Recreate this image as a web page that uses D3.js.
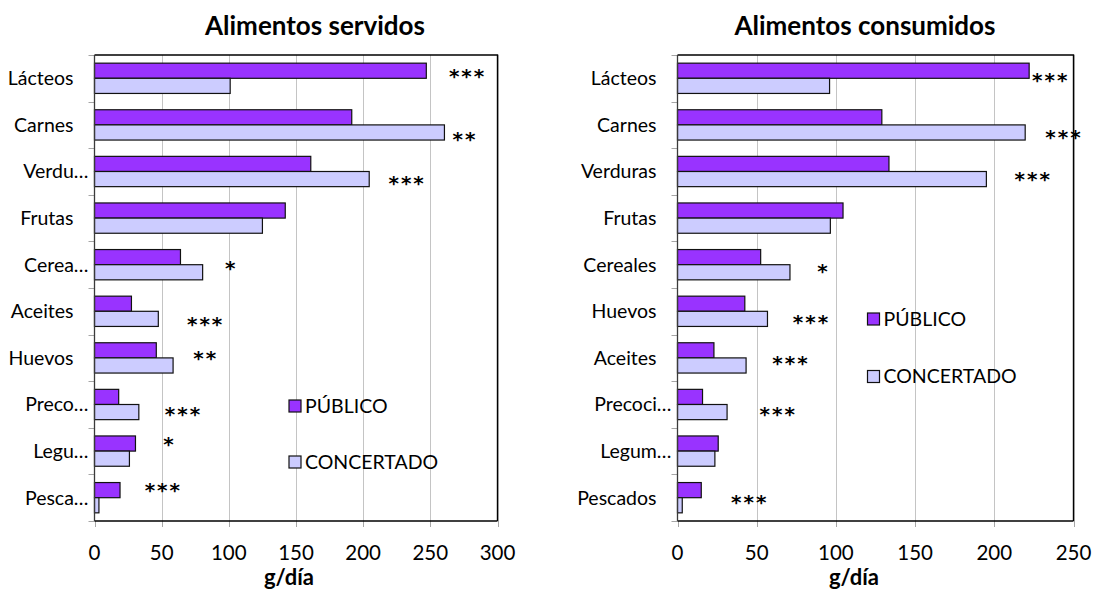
<!DOCTYPE html>
<html><head><meta charset="utf-8">
<script src="https://cdn.jsdelivr.net/npm/d3@7"></script>
<style>
html,body{margin:0;padding:0;background:#fff;}
svg{display:block;font-family:Lato,"Open Sans",sans-serif;}
</style></head>
<body>
<svg id="chart" width="1094" height="590"></svg>
<script>
// ---------- DATA ----------
const seriesNames = ["PÚBLICO", "CONCERTADO"];

const servidosCategories = ["Lácteos","Carnes","Verdu…","Frutas","Cerea…","Aceites","Huevos","Preco…","Legu…","Pesca…"];
const servidosPublico    = [247, 191.5, 161, 142, 64, 27.5, 46, 18, 30.5, 19];
const servidosConcertado = [101, 260.5, 204.5, 125, 80.5, 47.5, 58.5, 33, 26, 3.3];
const servidosSig        = ["***","**","***","","*","***","**","***","*","***"];
const servidosSigX       = [277, 275, 232, 0, 101, 82, 82, 65.5, 55, 50.5];
const servidosSigRow     = [0.41, 0.77, 0.70, 0, 0.52, 0.72, 0.46, 0.67, 0.31, 0.30];
const servidosTicks      = [0, 50, 100, 150, 200, 250, 300];

const consumidosCategories = ["Lácteos","Carnes","Verduras","Frutas","Cereales","Huevos","Aceites","Precoci…","Legum…","Pescados"];
const consumidosPublico    = [222, 129, 133.5, 104.5, 52.5, 42.5, 23, 15.8, 25.7, 15];
const consumidosConcertado = [96, 219.5, 195, 96.5, 71, 56.8, 43.3, 31.3, 23.6, 3];
const consumidosSig        = ["***","***","***","","*","***","***","***","","***"];
const consumidosSigX       = [235, 243.4, 224, 0, 91.5, 84, 71, 63, 0, 45];
const consumidosSigRow     = [0.50, 0.72, 0.62, 0, 0.60, 0.69, 0.56, 0.67, 0, 0.55];
const consumidosTicks      = [0, 50, 100, 150, 200, 250];

const xLabel = "g/día";
const colors = ["#9933FF", "#CCCCFF"];

// ---------- DRAW ----------
const svg = d3.select("#chart");

function panel(cfg) {
  const g = svg.append("g");
  const x = d3.scaleLinear().domain([0, d3.max(cfg.ticks)]).range([cfg.x0, cfg.x1]);
  const y = d3.scaleBand().domain(d3.range(cfg.categories.length)).range([cfg.y0, cfg.y1])
    .paddingInner(0.35).paddingOuter(0.175);
  const ySub = d3.scaleBand().domain([0, 1]).range([0, y.bandwidth()]);

  // gridlines
  g.append("g").selectAll("line").data(cfg.ticks.filter(t => t > 0)).join("line")
    .attr("x1", d => Math.round(x(d)) + 0.5).attr("x2", d => Math.round(x(d)) + 0.5)
    .attr("y1", cfg.y0).attr("y2", cfg.y1)
    .attr("stroke", "#c4c4c4").attr("stroke-width", 1);

  // bottom ticks
  g.append("g").selectAll("line").data(cfg.ticks).join("line")
    .attr("x1", d => Math.round(x(d)) + 0.5).attr("x2", d => Math.round(x(d)) + 0.5)
    .attr("y1", cfg.y1).attr("y2", cfg.y1 + 6)
    .attr("stroke", "#a6a6a6").attr("stroke-width", 1);
  // left ticks (category boundaries)
  const bounds = d3.range(cfg.categories.length + 1).map(i => cfg.y0 + i * y.step());
  g.append("g").selectAll("line").data(bounds).join("line")
    .attr("x1", cfg.x0 - 6).attr("x2", cfg.x0)
    .attr("y1", d => Math.round(d) + 0.5).attr("y2", d => Math.round(d) + 0.5)
    .attr("stroke", "#a6a6a6").attr("stroke-width", 1);

  // border (top/right) and axis lines
  g.append("path")
    .attr("d", `M${cfg.x0},${cfg.y0}H${cfg.x1}V${cfg.y1}`)
    .attr("fill", "none").attr("stroke", "#000").attr("stroke-width", 1.4);
  g.append("line").attr("x1", cfg.x0).attr("x2", cfg.x1).attr("y1", cfg.y1).attr("y2", cfg.y1)
    .attr("stroke", "#000").attr("stroke-width", 1.6);

  // bars
  const rows = cfg.categories.map((c, i) => ({ i, vals: [cfg.pub[i], cfg.con[i]] }));
  const rg = g.append("g").selectAll("g").data(rows).join("g")
    .attr("transform", d => `translate(0,${y(d.i)})`);
  rg.selectAll("rect").data(d => d.vals.map((v, k) => ({ v, k }))).join("rect")
    .attr("x", x(0)).attr("y", d => ySub(d.k))
    .attr("width", d => x(d.v) - x(0)).attr("height", ySub.bandwidth())
    .attr("fill", d => colors[d.k]).attr("stroke", "#111").attr("stroke-width", 1.2);

  // left axis line
  g.append("line").attr("x1", cfg.x0).attr("x2", cfg.x0).attr("y1", cfg.y0).attr("y2", cfg.y1)
    .attr("stroke", "#3a3a3a").attr("stroke-width", 1.3);

  // category labels
  g.append("g").selectAll("text").data(cfg.categories).join("text")
    .attr("x", d => d.endsWith("…") ? cfg.x0 - 6 : cfg.x0 - 21)
    .attr("y", (d, i) => y(i) + y.bandwidth() / 2)
    .attr("dy", "0.35em").attr("text-anchor", "end")
    .attr("font-size", 19.5).attr("fill", "#000").text(d => d);

  // tick labels
  g.append("g").selectAll("text").data(cfg.ticks).join("text")
    .attr("x", d => x(d)).attr("y", 560).attr("text-anchor", "middle")
    .attr("font-size", 20.5).attr("fill", "#000").text(d => d);

  // axis title
  g.append("text").attr("x", cfg.xTitleX).attr("y", 585).attr("text-anchor", "middle")
    .attr("font-size", 22).attr("font-weight", "bold").text(xLabel);

  // title
  g.append("text").attr("x", cfg.titleX).attr("y", 35).attr("text-anchor", "middle")
    .attr("font-size", 26).attr("font-weight", "bold").text(cfg.title);

  // significance stars
  const sig = cfg.sig.map((s, i) => ({ s, i, xv: cfg.sigX[i], r: cfg.sigRow[i] })).filter(d => d.s);
  g.append("g").selectAll("text").data(sig).join("text")
    .attr("x", d => x(d.xv) + 1)
    .attr("y", d => cfg.y0 + (d.i + d.r) * y.step() + 9)
    .attr("text-anchor", "middle")
    .style("font-family", "'DejaVu Sans', sans-serif")
    .attr("font-size", 20).attr("font-weight", "bold")
    .attr("letter-spacing", 2).text(d => d.s);

  // legend
  const lg = g.append("g");
  cfg.legendY.forEach((ly, k) => {
    lg.append("rect").attr("x", cfg.legendX).attr("y", ly - 6).attr("width", 12).attr("height", 12)
      .attr("fill", colors[k]).attr("stroke", "#111").attr("stroke-width", 1.2);
    lg.append("text").attr("x", cfg.legendX + 16).attr("y", ly).attr("dy", "0.35em")
      .attr("font-size", 19.5).text(seriesNames[k]);
  });
}

panel({
  title: "Alimentos servidos", titleX: 315, xTitleX: 289,
  categories: servidosCategories, pub: servidosPublico, con: servidosConcertado,
  sig: servidosSig, sigX: servidosSigX, sigRow: servidosSigRow, ticks: servidosTicks,
  x0: 94.5, x1: 497.5, y0: 55, y1: 521,
  legendX: 289, legendY: [406, 462]
});
panel({
  title: "Alimentos consumidos", titleX: 865, xTitleX: 854,
  categories: consumidosCategories, pub: consumidosPublico, con: consumidosConcertado,
  sig: consumidosSig, sigX: consumidosSigX, sigRow: consumidosSigRow, ticks: consumidosTicks,
  x0: 677.5, x1: 1073.5, y0: 55, y1: 521,
  legendX: 867.5, legendY: [319, 376.5]
});
</script>
</body></html>
